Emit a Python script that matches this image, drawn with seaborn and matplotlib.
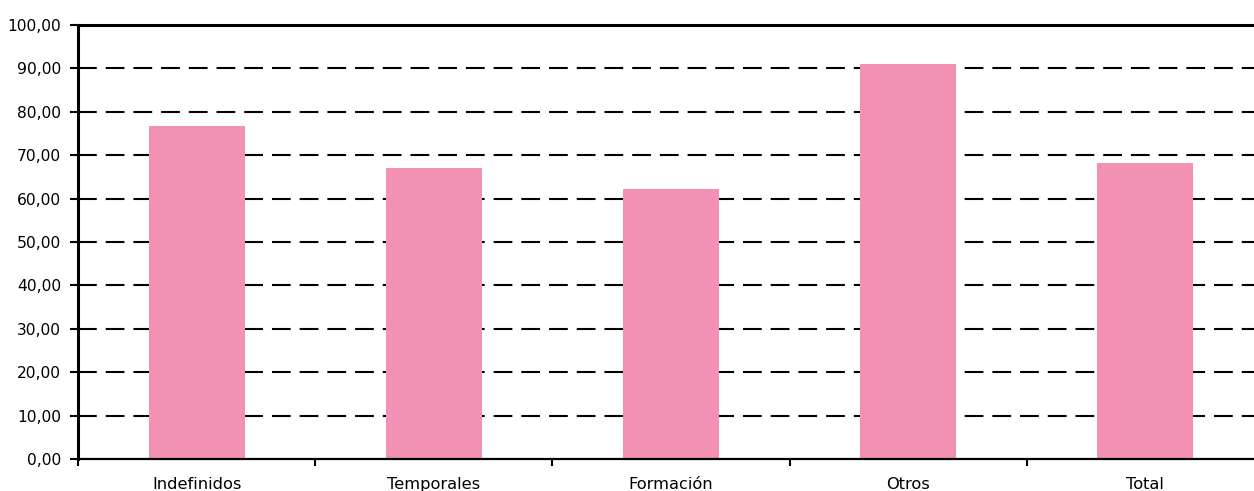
import numpy as np
import pandas as pd
import matplotlib
matplotlib.use("Agg")
import matplotlib.pyplot as plt
import seaborn as sns
from matplotlib.ticker import FuncFormatter, FixedLocator

# datos
categorias = ["Indefinidos", "Temporales", "Formación", "Otros", "Total"]
valores = [76.8, 67.0, 62.1, 90.9, 68.2]
ticks_y = [0, 10, 20, 30, 40, 50, 60, 70, 80, 90, 100]

df = pd.DataFrame({"Tipo": categorias, "Valor": valores})

sns.set_style("white")
plt.rcParams['font.family'] = ['DejaVu Sans']
plt.rcParams['text.color'] = 'black'
plt.rcParams['xtick.color'] = 'black'
plt.rcParams['ytick.color'] = 'black'

fig = plt.figure(figsize=(12.54, 4.91), dpi=100)
ax = fig.add_axes([78 / 1254, 32 / 491, 1186 / 1254, 434 / 491])

# rejilla discontinua por detrás de las barras
for t in ticks_y[1:-1]:
    ax.axhline(t, color="black", lw=1.5, linestyle=(0, (9, 4.3)), zorder=0)

sns.barplot(x="Tipo", y="Valor", data=df, color="#F291B3", saturation=1,
            width=0.405, ax=ax, zorder=2, edgecolor="none", linewidth=0)

ax.set_ylim(0, 100)
ax.set_xlim(-0.5, 4.5)
ax.set_yticks(ticks_y)
ax.yaxis.set_major_formatter(FuncFormatter(lambda v, p: f"{v:.2f}".replace(".", ",")))

ax.xaxis.set_minor_locator(FixedLocator(np.arange(-0.5, 4.6, 1)))
ax.tick_params(axis="x", which="major", length=0, pad=13, labelsize=11.7, colors="black")
ax.tick_params(axis="x", which="minor", length=5, width=1.5, direction="out",
               color="black", bottom=True)
ax.tick_params(axis="y", length=6, width=1.5, direction="out", colors="black",
               labelsize=11.2, pad=6, left=True)

ax.set_xlabel("")
ax.set_ylabel("")

for s in ["left", "top"]:
    ax.spines[s].set_linewidth(2.2)
    ax.spines[s].set_color("black")
ax.spines["bottom"].set_linewidth(1.6)
ax.spines["bottom"].set_color("black")
ax.spines["right"].set_visible(False)

fig.savefig("out.png", dpi=100)
